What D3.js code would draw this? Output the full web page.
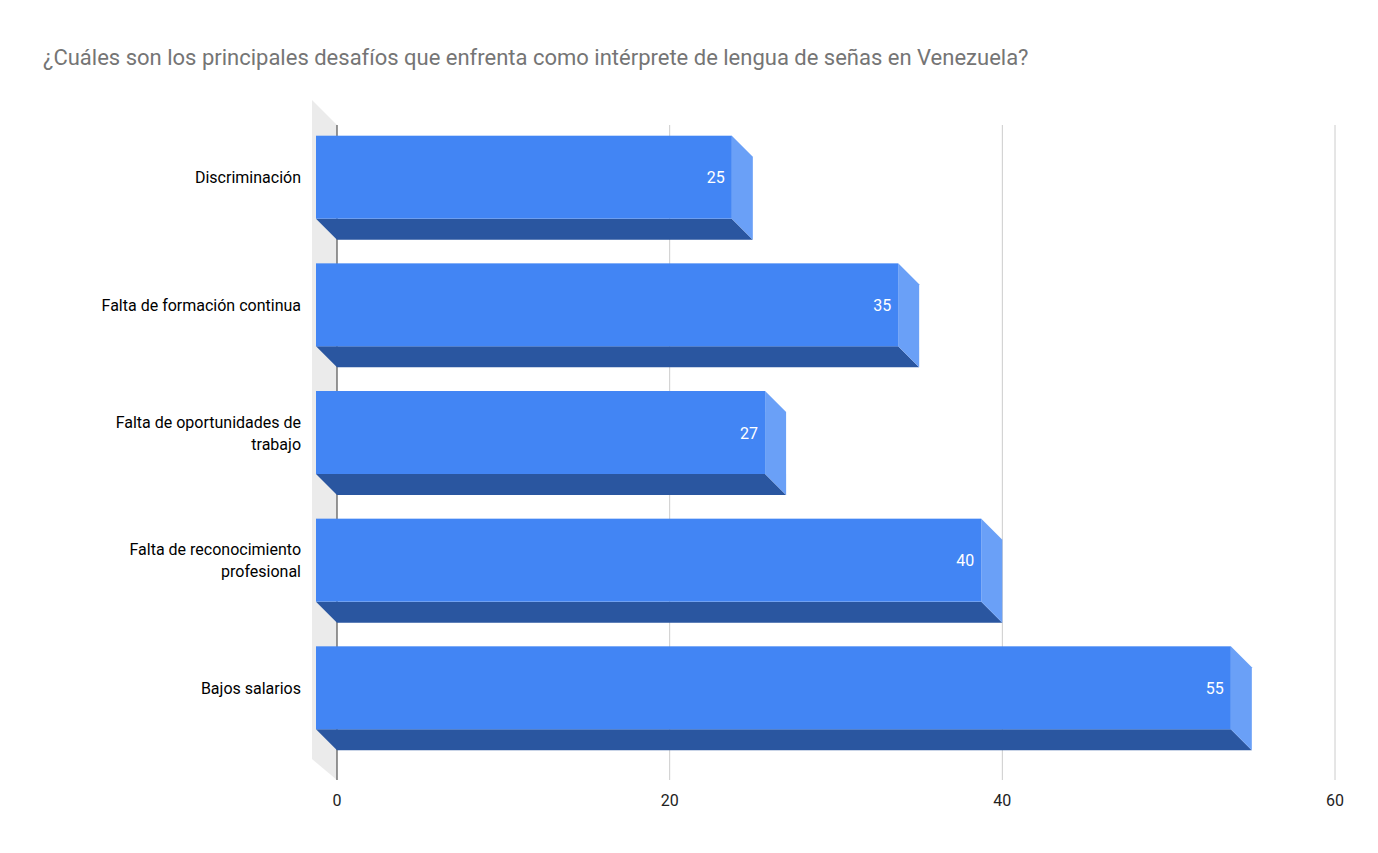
<!DOCTYPE html><html><head><meta charset="utf-8">
<script src="https://cdn.jsdelivr.net/npm/d3@7/dist/d3.min.js"></script>
<style>body{margin:0;background:#fff}</style></head><body>
<svg id="c" width="1378" height="853"></svg>
<script>
const categories=[["Discriminación"],["Falta de formación continua"],["Falta de oportunidades de","trabajo"],["Falta de reconocimiento","profesional"],["Bajos salarios"]];
const values=[25,35,27,40,55];
const ticks=[0,20,40,60];
const title="¿Cuáles son los principales desafíos que enfrenta como intérprete de lengua de señas en Venezuela?";
const svg=d3.select("#c");
const F="Roboto, Arial, sans-serif";
const d=21;
const x=d3.scaleLinear().domain([0,60]).range([337,1335]);
const y=d3.scaleBand().domain(d3.range(values.length)).range([114,751]).paddingInner(0.35).paddingOuter(0.17);
svg.append("text").attr("x",43).attr("y",65).attr("font-family",F).attr("font-size",22).attr("fill","#757575").text(title);
// wall
svg.append("path").attr("d",`M312,100 L337,125 L337,780 L312,759 Z`).attr("fill","#ebebeb");
ticks.forEach(t=>{
 svg.append("line").attr("x1",x(t)).attr("x2",x(t)).attr("y1",125).attr("y2",780).attr("stroke",t===0?"#333":"#ccc").attr("stroke-width",1);
 svg.append("text").attr("x",x(t)).attr("y",806).attr("text-anchor","middle").attr("font-family",F).attr("font-size",16).attr("fill","#222").text(t);
});
values.forEach((v,i)=>{
 const y0=y(i), h=y.bandwidth(), x0=x(0)-d, x1=x(v)-d;
 svg.append("path").attr("d",`M${x0},${y0+h} L${x1},${y0+h} L${x1+d},${y0+h+d} L${x0+d},${y0+h+d} Z`).attr("fill","#2a56a0");
 svg.append("path").attr("d",`M${x1},${y0} L${x1+d},${y0+d} L${x1+d},${y0+h+d} L${x1},${y0+h} Z`).attr("fill","#6aa0f7");
 svg.append("rect").attr("x",x0).attr("y",y0).attr("width",x1-x0).attr("height",h).attr("fill","#4285f4");
 svg.append("text").attr("x",x1-7).attr("y",y0+h/2+6).attr("text-anchor","end").attr("font-family",F).attr("font-size",16).attr("fill","#fff").text(v);
 const lines=categories[i], cy=y0+h/2;
 lines.forEach((l,j)=>{
  svg.append("text").attr("x",301).attr("y",cy+6+(j-(lines.length-1)/2)*22).attr("text-anchor","end").attr("font-family",F).attr("font-size",16).attr("fill","#000").text(l);
 });
});
</script></body></html>
